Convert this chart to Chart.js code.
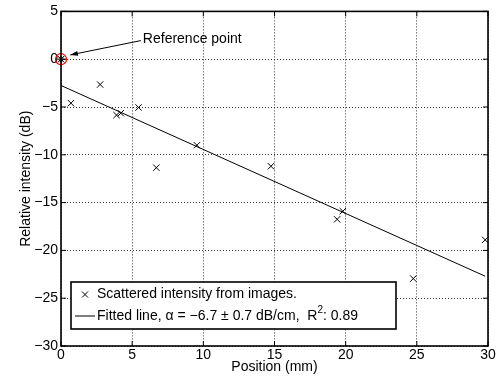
<!DOCTYPE html>
<html>
<head>
<meta charset="utf-8">
<script src="https://cdn.jsdelivr.net/npm/chart.js@4"></script>
<style>
  html, body { margin: 0; padding: 0; background: #fff; }
  #wrap { width: 504px; height: 381px; }
</style>
</head>
<body>
<div id="wrap"><canvas id="chart" width="504" height="381"></canvas></div>
<script>
// measured points (position in mm, relative intensity in dB)
const positions = [0, 0.7, 2.75, 3.9, 4.2, 5.45, 6.7, 9.55, 14.75, 19.4, 19.8, 24.75, 29.8];
const intensities = [0, -4.6, -2.65, -5.85, -5.65, -5.05, -11.35, -9.0, -11.2, -16.75, -15.9, -22.95, -18.9];

// least-squares fit drawn as a line between its two ends
const fitX = [0, 29.8];
const fitY = [-2.75, -22.7];

// reference point
const refX = [0];
const refY = [0];

const xTicks = [0, 5, 10, 15, 20, 25, 30];
const yTicks = [5, 0, -5, -10, -15, -20, -25, -30];

const legendLabels = ['Scattered intensity from images.', 'Fitted line, \u03b1 = \u22126.7 \u00b1 0.7 dB/cm,  R', ': 0.89'];
const annotationText = 'Reference point';

const FONT = '"Liberation Sans", Arial, Helvetica, sans-serif';
const minus = v => String(v).replace('-', '\u2212');

// box, inward ticks, legend and the arrow note, MATLAB style
const matlabPlugin = {
    id: 'matlab',
    afterDatasetsDraw(chart) {
        const { ctx, chartArea: a, scales: { x, y } } = chart;
        ctx.save();
        ctx.strokeStyle = '#000';
        ctx.lineWidth = 1;
        xTicks.forEach(t => {
            const px = x.getPixelForValue(t);
            ctx.beginPath();
            ctx.moveTo(px, a.bottom); ctx.lineTo(px, a.bottom - 5);
            ctx.moveTo(px, a.top); ctx.lineTo(px, a.top + 5);
            ctx.stroke();
        });
        yTicks.forEach(t => {
            const py = y.getPixelForValue(t);
            ctx.beginPath();
            ctx.moveTo(a.left, py); ctx.lineTo(a.left + 5, py);
            ctx.moveTo(a.right, py); ctx.lineTo(a.right - 5, py);
            ctx.stroke();
        });
        ctx.lineWidth = 1.6;
        ctx.strokeRect(a.left, a.top, a.right - a.left, a.bottom - a.top);

        // arrow + text
        const tx = x.getPixelForValue(5.75), ty = y.getPixelForValue(2.05);
        const hx = x.getPixelForValue(0.65), hy = y.getPixelForValue(0.45);
        ctx.lineWidth = 1;
        ctx.beginPath();
        ctx.moveTo(tx - 2, ty + 1);
        ctx.lineTo(hx, hy);
        ctx.stroke();
        const ang = Math.atan2(hy - (ty + 1), hx - (tx - 2));
        ctx.fillStyle = '#000';
        ctx.beginPath();
        ctx.moveTo(hx, hy);
        ctx.lineTo(hx - 8 * Math.cos(ang - 0.32), hy - 8 * Math.sin(ang - 0.32));
        ctx.lineTo(hx - 8 * Math.cos(ang + 0.32), hy - 8 * Math.sin(ang + 0.32));
        ctx.closePath();
        ctx.fill();
        ctx.font = '14px ' + FONT;
        ctx.textBaseline = 'middle';
        ctx.textAlign = 'left';
        ctx.fillText(annotationText, tx, ty);

        // legend box
        const lx = 71, ly = 282, lw = 325, lh = 47;
        ctx.fillStyle = '#fff';
        ctx.fillRect(lx, ly, lw, lh);
        ctx.lineWidth = 1.6;
        ctx.strokeRect(lx, ly, lw, lh);
        ctx.fillStyle = '#000';
        ctx.lineWidth = 1;
        const r1 = 294.5, r2 = 316;
        ctx.beginPath();
        ctx.moveTo(82, r1 - 3); ctx.lineTo(88, r1 + 3);
        ctx.moveTo(88, r1 - 3); ctx.lineTo(82, r1 + 3);
        ctx.moveTo(75, r2); ctx.lineTo(95, r2);
        ctx.stroke();
        ctx.fillText(legendLabels[0], 97, r1);
        ctx.fillText(legendLabels[1], 97, r2);
        const w = ctx.measureText(legendLabels[1]).width;
        ctx.font = '10px ' + FONT;
        ctx.fillText('2', 97 + w, r2 - 6);
        const w2 = ctx.measureText('2').width;
        ctx.font = '14px ' + FONT;
        ctx.fillText(legendLabels[2], 97 + w + w2, r2);
        ctx.restore();
    }
};

const ctx = document.getElementById('chart').getContext('2d');
new Chart(ctx, {
    type: 'scatter',
    data: {
        datasets: [
            {
                label: 'Fitted line',
                type: 'line',
                data: fitX.map((v, i) => ({ x: v, y: fitY[i] })),
                borderColor: '#000',
                borderWidth: 1,
                pointRadius: 0,
                fill: false,
                clip: false
            },
            {
                label: 'Scattered intensity from images.',
                data: positions.map((v, i) => ({ x: v, y: intensities[i] })),
                pointStyle: 'crossRot',
                pointRadius: 4.5,
                borderColor: '#000',
                borderWidth: 1,
                clip: false
            },
            {
                label: 'Reference star',
                data: refX.map((v, i) => ({ x: v, y: refY[i] })),
                pointStyle: 'star',
                pointRadius: 3.5,
                borderColor: '#000',
                borderWidth: 1,
                clip: false
            },
            {
                label: 'Reference point',
                data: refX.map((v, i) => ({ x: v, y: refY[i] })),
                pointStyle: 'circle',
                pointRadius: 5.5,
                borderColor: '#ff0000',
                backgroundColor: 'rgba(0,0,0,0)',
                borderWidth: 1.2,
                clip: false
            }
        ]
    },
    options: {
        responsive: false,
        animation: false,
        layout: { padding: { top: 5, right: 16, left: 0, bottom: 0 } },
        plugins: { legend: { display: false }, tooltip: { enabled: false } },
        scales: {
            x: {
                type: 'linear',
                min: 0, max: 30,
                afterBuildTicks: s => { s.ticks = xTicks.map(v => ({ value: v })); },
                afterFit: s => { s.height = 35; },
                ticks: { color: '#000', font: { family: FONT, size: 14 }, padding: 1, maxRotation: 0, callback: v => minus(v) },
                grid: { color: '#000', lineWidth: 0.8, drawTicks: false },
                border: { display: false, dash: [1, 2] },
                title: { display: true, text: 'Position (mm)', color: '#000', font: { family: FONT, size: 14 }, padding: { top: 0, bottom: 5 } }
            },
            y: {
                type: 'linear',
                min: -30, max: 5,
                afterBuildTicks: s => { s.ticks = yTicks.map(v => ({ value: v })); },
                afterFit: s => { s.width = 61; },
                ticks: { color: '#000', font: { family: FONT, size: 14 }, padding: 3, callback: v => minus(v) },
                grid: { color: '#000', lineWidth: 0.8, drawTicks: false },
                border: { display: false, dash: [1, 2] },
                title: { display: true, text: 'Relative intensity (dB)', color: '#000', font: { family: FONT, size: 14 }, padding: { top: 18, bottom: 0 } }
            }
        }
    },
    plugins: [matlabPlugin]
});
</script>
</body>
</html>
